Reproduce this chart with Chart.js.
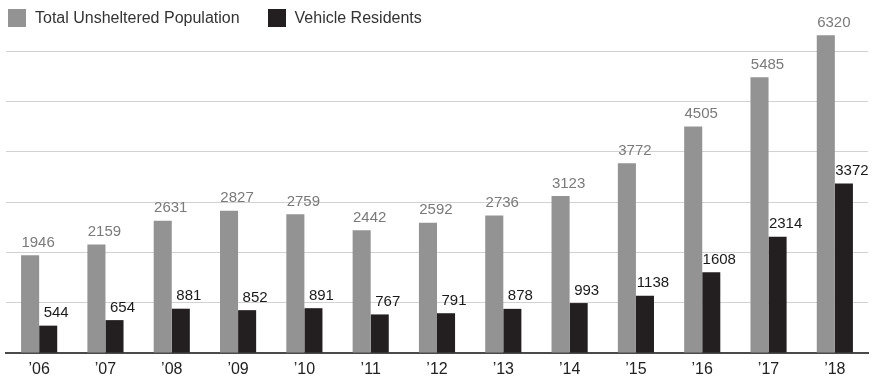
<!DOCTYPE html>
<html>
<head>
<meta charset="utf-8">
<script src="https://cdn.jsdelivr.net/npm/chart.js@4"></script>
<style>
  html, body { margin: 0; padding: 0; background: #fff; }
  #wrap { position: relative; width: 874px; height: 379px; }
  .legend { position: absolute; top: 9px; left: 8px; display: flex; align-items: center;
    font-family: "Liberation Sans", Arial, sans-serif; font-size: 16px; color: #333; }
  .legend .sw { width: 18px; height: 18px; display: inline-block; margin-right: 9px; }
  .legend .item { display: flex; align-items: center; margin-right: 28px; }
</style>
</head>
<body>
<div id="wrap">
  <canvas id="chart"></canvas>
  <div class="legend">
    <span class="item"><span class="sw" style="background:#939393"></span>Total Unsheltered Population</span>
    <span class="item"><span class="sw" style="background:#231f20"></span>Vehicle Residents</span>
  </div>
</div>
<script>
// data
const years = ['’06', '’07', '’08', '’09', '’10', '’11', '’12', '’13', '’14', '’15', '’16', '’17', '’18'];
const unsheltered = [1946, 2159, 2631, 2827, 2759, 2442, 2592, 2736, 3123, 3772, 4505, 5485, 6320];
const vehicle = [544, 654, 881, 852, 891, 767, 791, 878, 993, 1138, 1608, 2314, 3372];

const GRAY = '#939393';
const BLACK = '#231f20';

// value labels above each bar, nudged a little right like the original
const valueLabels = {
  id: 'valueLabels',
  afterDatasetsDraw(chart) {
    const ctx = chart.ctx;
    ctx.save();
    ctx.font = '15px "Liberation Sans", Arial, sans-serif';
    ctx.textAlign = 'center';
    ctx.textBaseline = 'bottom';
    chart.data.datasets.forEach((ds, i) => {
      const meta = chart.getDatasetMeta(i);
      ctx.fillStyle = i === 0 ? '#7a7a7a' : '#1a1a1a';
      meta.data.forEach((bar, j) => {
        ctx.fillText(String(ds.data[j]), bar.x + 8, bar.y - 5);
      });
    });
    ctx.restore();
  }
};

new Chart(document.getElementById('chart'), {
  type: 'bar',
  data: {
    labels: years,
    datasets: [
      { label: 'Total Unsheltered Population', data: unsheltered, backgroundColor: GRAY },
      { label: 'Vehicle Residents', data: vehicle, backgroundColor: BLACK }
    ]
  },
  options: {
    responsive: true,
    maintainAspectRatio: false,
    animation: false,
    layout: { padding: { left: 6, right: 6, top: 1, bottom: 0 } },
    plugins: { legend: { display: false }, tooltip: { enabled: false } },
    datasets: { bar: { categoryPercentage: 0.545, barPercentage: 1 } },
    scales: {
      x: {
        grid: { display: false },
        border: { color: '#4a4a4a', width: 2 },
        ticks: { color: '#222', font: { family: '"Liberation Sans", Arial, sans-serif', size: 16 }, padding: -1 },
        afterFit: (s) => { s.height = 26; }
      },
      y: {
        min: 0, max: 7000,
        ticks: { display: false, stepSize: 1000 },
        border: { display: false },
        grid: {
          drawTicks: false,
          color: (c) => (c.tick && (c.tick.value === 0 || c.tick.value === 7000)) ? 'rgba(0,0,0,0)' : '#d2d2d2'
        }
      }
    }
  },
  plugins: [valueLabels]
});
</script>
</body>
</html>
